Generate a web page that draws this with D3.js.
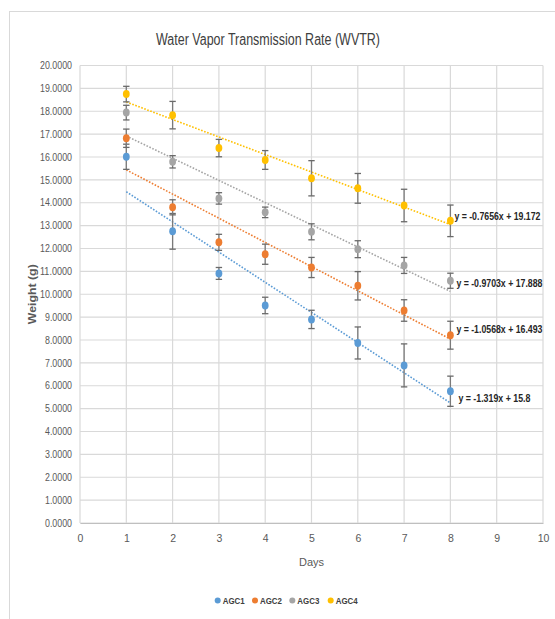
<!DOCTYPE html>
<html>
<head>
<meta charset="utf-8">
<script src="https://cdn.jsdelivr.net/npm/d3@7"></script>
<style>
  html, body { margin: 0; padding: 0; background: #fff; }
  svg { display: block; }
  text { font-family: "Liberation Sans Narrow", "Arial Narrow", "Liberation Sans", sans-serif; }
</style>
</head>
<body>
<svg id="chart" width="555" height="619"></svg>
<script>
// ---- Data ----
const days = [1, 2, 3, 4, 5, 6, 7, 8];
const seriesNames = ["AGC1", "AGC2", "AGC3", "AGC4"];
const agc1 = [16.01, 12.75, 10.91, 9.51, 8.90, 7.87, 6.89, 5.76];
const agc1Err = [0.55, 0.78, 0.26, 0.36, 0.40, 0.70, 0.94, 0.66];
const agc2 = [16.82, 13.80, 12.27, 11.75, 11.17, 10.37, 9.29, 8.21];
const agc2Err = [0.40, 0.33, 0.35, 0.44, 0.44, 0.62, 0.47, 0.61];
const agc3 = [17.94, 15.79, 14.19, 13.58, 12.73, 11.97, 11.26, 10.59];
const agc3Err = [0.32, 0.27, 0.25, 0.23, 0.35, 0.37, 0.35, 0.33];
const agc4 = [18.75, 17.83, 16.39, 15.87, 15.07, 14.63, 13.88, 13.21];
const agc4Err = [0.34, 0.60, 0.38, 0.41, 0.77, 0.65, 0.71, 0.69];
const trendSlopes = [-1.319, -1.0568, -0.9703, -0.7656];
const trendIntercepts = [15.8, 16.493, 17.888, 19.172];
const trendLabels = ["y = -1.319x + 15.8", "y = -1.0568x + 16.493", "y = -0.9703x + 17.888", "y = -0.7656x + 19.172"];
const xTicks = [0, 1, 2, 3, 4, 5, 6, 7, 8, 9, 10];
const yTicks = [0, 1, 2, 3, 4, 5, 6, 7, 8, 9, 10, 11, 12, 13, 14, 15, 16, 17, 18, 19, 20];
const colors = ["#5B9BD5", "#ED7D31", "#A5A5A5", "#FFC000"];
const titleText = "Water Vapor Transmission Rate (WVTR)";
const xTitle = "Days";
const yTitle = "Weight (g)";

const values = [agc1, agc2, agc3, agc4];
const errors = [agc1Err, agc2Err, agc3Err, agc4Err];

// ---- Layout ----
const svg = d3.select("#chart");
const plot = { left: 80, right: 543, top: 65.5, bottom: 523 };

const x = d3.scaleLinear().domain([0, 10]).range([plot.left, plot.right]);
const y = d3.scaleLinear().domain([0, 20]).range([plot.bottom, plot.top]);

// chart frame (cropped at right/bottom)
svg.append("rect")
  .attr("x", 9.5).attr("y", 11.5).attr("width", 600).attr("height", 700)
  .attr("fill", "#fff").attr("stroke", "#d9d9d9").attr("stroke-width", 1);

// title
svg.append("text")
  .attr("x", 268).attr("y", 45)
  .attr("text-anchor", "middle")
  .attr("font-size", 16)
  .attr("fill", "#404040")
  .attr("textLength", 224).attr("lengthAdjust", "spacingAndGlyphs")
  .text(titleText);

// gridlines
const grid = svg.append("g");
grid.selectAll("line.h").data(yTicks).join("line")
  .attr("x1", plot.left).attr("x2", plot.right)
  .attr("y1", d => y(d)).attr("y2", d => y(d))
  .attr("stroke", "#d9d9d9").attr("stroke-width", 1.2);
grid.selectAll("line.v").data(xTicks).join("line")
  .attr("y1", plot.top).attr("y2", plot.bottom)
  .attr("x1", d => x(d)).attr("x2", d => x(d))
  .attr("stroke", "#d9d9d9").attr("stroke-width", 1.2);

// axes
const xAxis = d3.axisBottom(x).tickValues(xTicks).tickSize(0).tickPadding(12).tickFormat(d3.format("d"));
const gx = svg.append("g").attr("transform", `translate(0,${plot.bottom})`).call(xAxis);
gx.select(".domain").attr("stroke", "#bfbfbf").attr("stroke-width", 1.2);
gx.selectAll("text").attr("font-size", 10.5).attr("fill", "#595959")
  .attr("font-family", "'Liberation Sans Narrow', 'Liberation Sans', sans-serif");

const yAxis = d3.axisLeft(y).tickValues(yTicks).tickSize(0).tickPadding(8).tickFormat(d3.format(".4f"));
const gy = svg.append("g").attr("transform", `translate(${plot.left},0)`).call(yAxis);
gy.select(".domain").remove();
gy.selectAll("text").attr("font-size", 10).attr("fill", "#595959")
  .attr("font-family", "'Liberation Sans Narrow', 'Liberation Sans', sans-serif")
  .attr("textLength", function () { return this.textContent.length >= 7 ? 32 : 27; })
  .attr("lengthAdjust", "spacingAndGlyphs");

// axis titles
svg.append("text")
  .attr("x", (plot.left + plot.right) / 2).attr("y", 566)
  .attr("text-anchor", "middle").attr("font-size", 11).attr("fill", "#595959")
  .text(xTitle);
svg.append("text")
  .attr("transform", `translate(35.5,${(plot.top + plot.bottom) / 2}) rotate(-90)`)
  .attr("text-anchor", "middle").attr("font-size", 11.5).attr("font-weight", "bold").attr("fill", "#595959")
  .attr("textLength", 60).attr("lengthAdjust", "spacingAndGlyphs")
  .text(yTitle);

// trendlines
const trendG = svg.append("g");
seriesNames.forEach((name, i) => {
  const x0 = d3.min(days), x1 = d3.max(days);
  trendG.append("line")
    .attr("x1", x(x0)).attr("y1", y(trendSlopes[i] * x0 + trendIntercepts[i]))
    .attr("x2", x(x1)).attr("y2", y(trendSlopes[i] * x1 + trendIntercepts[i]))
    .attr("stroke", colors[i]).attr("stroke-width", 1.6)
    .attr("stroke-dasharray", "1.6,1.6");
});

// error bars + markers
const order = [0, 1, 2, 3];
order.forEach(i => {
  const g = svg.append("g");
  const pts = days.map((d, k) => ({ d, v: values[i][k], e: errors[i][k] }));
  g.selectAll("line.eb").data(pts).join("line")
    .attr("x1", p => x(p.d)).attr("x2", p => x(p.d))
    .attr("y1", p => y(p.v + p.e)).attr("y2", p => y(p.v - p.e))
    .attr("stroke", "#7a7a7a").attr("stroke-width", 1.3);
  g.selectAll("line.capt").data(pts).join("line")
    .attr("x1", p => x(p.d) - 3.2).attr("x2", p => x(p.d) + 3.2)
    .attr("y1", p => y(p.v + p.e)).attr("y2", p => y(p.v + p.e))
    .attr("stroke", "#6a6a6a").attr("stroke-width", 1.3);
  g.selectAll("line.capb").data(pts).join("line")
    .attr("x1", p => x(p.d) - 3.2).attr("x2", p => x(p.d) + 3.2)
    .attr("y1", p => y(p.v - p.e)).attr("y2", p => y(p.v - p.e))
    .attr("stroke", "#6a6a6a").attr("stroke-width", 1.3);
});
order.forEach(i => {
  svg.append("g").selectAll("ellipse").data(days.map((d, k) => ({ d, v: values[i][k] }))).join("ellipse")
    .attr("cx", p => x(p.d)).attr("cy", p => y(p.v))
    .attr("rx", 3.4).attr("ry", 4)
    .attr("fill", colors[i]);
});

// trend equations
const labelDy = [-1, -6, -4, -5];
const labelDx = [8, 6, 6, 4];
const labelW = [72, 86, 86, 86];
seriesNames.forEach((name, i) => {
  const xe = d3.max(days);
  svg.append("text")
    .attr("x", x(xe) + labelDx[i])
    .attr("y", y(trendSlopes[i] * xe + trendIntercepts[i]) + labelDy[i])
    .attr("font-size", 10).attr("font-weight", "bold").attr("fill", "#262626")
    .attr("textLength", labelW[i]).attr("lengthAdjust", "spacingAndGlyphs")
    .text(trendLabels[i]);
});

// legend
const legendX = [217.7, 255, 292.3, 330.7];
const legend = svg.append("g");
seriesNames.forEach((name, i) => {
  legend.append("circle").attr("cx", legendX[i]).attr("cy", 600.5).attr("r", 3)
    .attr("fill", colors[i]);
  legend.append("text").attr("x", legendX[i] + 5).attr("y", 604)
    .attr("font-size", 9.5).attr("font-weight", "bold").attr("fill", "#404040")
    .attr("textLength", 22).attr("lengthAdjust", "spacingAndGlyphs")
    .text(name);
});
</script>
</body>
</html>
